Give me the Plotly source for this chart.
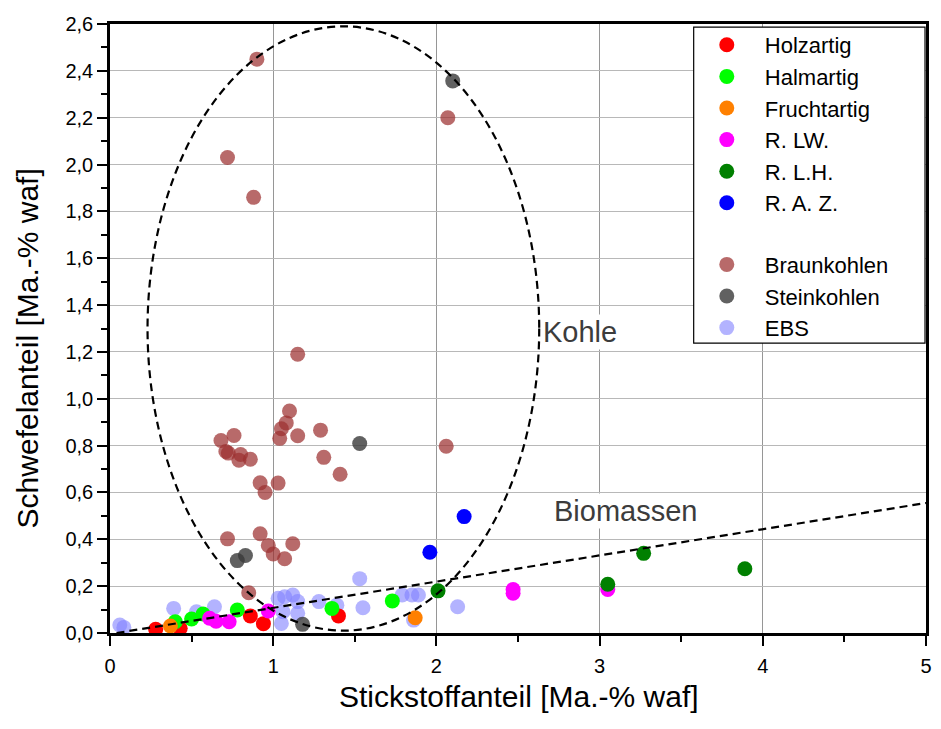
import plotly.graph_objects as go

# ---- data: nitrogen (x) and sulphur (y) content, Ma.-% waf ----
holz_x = [0.28, 0.43, 0.86, 0.94, 1.40]
holz_y = [0.016, 0.020, 0.073, 0.040, 0.073]

halm_x = [0.40, 0.50, 0.57, 0.78, 1.36, 1.73]
halm_y = [0.048, 0.060, 0.081, 0.098, 0.105, 0.137]

frucht_x = [0.37, 1.87]
frucht_y = [0.030, 0.065]

rlw_x = [0.61, 0.65, 0.73, 0.97, 2.47, 2.47, 3.05]
rlw_y = [0.063, 0.050, 0.048, 0.094, 0.186, 0.170, 0.186]

rlh_x = [2.01, 3.05, 3.27, 3.89]
rlh_y = [0.180, 0.208, 0.340, 0.274]

raz_x = [1.96, 2.17]
raz_y = [0.345, 0.497]

braun_x = [0.90, 0.72, 0.88, 2.07, 1.15, 1.10, 1.08, 1.05, 1.04, 1.15, 1.29,
           1.31, 1.41, 0.68, 0.76, 0.71, 0.725, 0.80, 0.79, 0.86, 0.92, 0.95,
           1.03, 0.72, 0.92, 0.97, 1.12, 1.00, 1.07, 2.06, 0.85]
braun_y = [2.45, 2.03, 1.86, 2.20, 1.19, 0.948, 0.897, 0.872, 0.831, 0.842, 0.866,
           0.750, 0.678, 0.822, 0.843, 0.775, 0.768, 0.762, 0.738, 0.742, 0.641, 0.600,
           0.640, 0.402, 0.424, 0.374, 0.381, 0.337, 0.317, 0.797, 0.172]

stein_x = [2.10, 1.53, 0.83, 0.78, 1.18]
stein_y = [2.357, 0.809, 0.331, 0.309, 0.037]

ebs_x = [0.06, 0.085, 0.39, 0.53, 0.64, 1.03, 1.07, 1.12, 1.15, 1.06, 1.15,
         1.05, 1.28, 1.39, 1.53, 1.55, 1.79, 1.85, 1.89, 1.86, 2.13]
ebs_y = [0.034, 0.024, 0.105, 0.091, 0.112, 0.148, 0.155, 0.162, 0.134, 0.091, 0.084,
         0.041, 0.134, 0.119, 0.232, 0.108, 0.162, 0.162, 0.162, 0.055, 0.112]

# region outlines: coal ellipse and biomass boundary line
kohle_ellipse = dict(x0=0.23, x1=2.63, y0=0.01, y1=2.59)
bio_line = dict(x0=0.04, y0=0.0, x1=5.0, y1=0.555)

FONT = "Arial, 'Liberation Sans', sans-serif"
MS = 15

fig = go.Figure()

def add(x, y, name, color, group, rank, opacity=1.0):
    fig.add_trace(go.Scatter(
        x=x, y=y, mode="markers", name=name,
        marker=dict(size=MS, color=color, opacity=opacity, line=dict(width=0)),
        legendgroup=group, legendrank=rank,
    ))

# background series first so the biomass markers sit on top
add(ebs_x, ebs_y, "EBS", "#8080ff", "coal", 9, 0.6)
add(braun_x, braun_y, "Braunkohlen", "#9c3030", "coal", 7, 0.72)
add(stein_x, stein_y, "Steinkohlen", "#3a3a3a", "coal", 8, 0.8)
add(holz_x, holz_y, "Holzartig", "#ff0000", "bio", 1)
add(halm_x, halm_y, "Halmartig", "#00ff00", "bio", 2)
add(frucht_x, frucht_y, "Fruchtartig", "#ff8000", "bio", 3)
add(rlw_x, rlw_y, "R. LW.", "#ff00ff", "bio", 4)
add(rlh_x, rlh_y, "R. L.H.", "#008000", "bio", 5)
add(raz_x, raz_y, "R. A. Z.", "#0000ff", "bio", 6)

dash = "8px,5px"
fig.add_shape(type="circle", xref="x", yref="y", layer="above",
              line=dict(color="black", width=2.2, dash=dash), **kohle_ellipse)
fig.add_shape(type="line", xref="x", yref="y", layer="above",
              line=dict(color="black", width=2.2, dash=dash), **bio_line)

# legend frame
fig.add_shape(type="rect", xref="paper", yref="paper", layer="above",
              x0=0.7153, x1=0.9988, y0=0.476, y1=0.995,
              line=dict(color="black", width=1.2), fillcolor="white")

fig.add_annotation(x=2.88, y=1.284, xref="x", yref="y", text="Kohle",
                   showarrow=False, bgcolor="white",
                   font=dict(family=FONT, size=29, color="#3c3c3c"))
fig.add_annotation(x=3.16, y=0.52, xref="x", yref="y", text="Biomassen",
                   showarrow=False, bgcolor="white",
                   font=dict(family=FONT, size=29, color="#3c3c3c"))

# axis titles
fig.add_annotation(x=0.501, y=-0.104, xref="paper", yref="paper",
                   xanchor="center", yanchor="middle",
                   text="Stickstoffanteil [Ma.-% waf]", showarrow=False,
                   font=dict(family=FONT, size=30, color="black"))
fig.add_annotation(x=-0.1, y=0.468, xref="paper", yref="paper",
                   xanchor="center", yanchor="middle",
                   text="Schwefelanteil [Ma.-% waf]", showarrow=False, textangle=-90,
                   font=dict(family=FONT, size=30, color="black"))

axis_common = dict(
    showline=True, linecolor="black", linewidth=2.5, mirror=True,
    ticks="outside", ticklen=10, tickwidth=2, tickcolor="black",
    tickfont=dict(family=FONT, size=20, color="black"),
    zeroline=False, showgrid=True, gridwidth=1,
)

fig.update_xaxes(range=[0, 5], dtick=1, tick0=0, gridcolor="#969696",
                 minor=dict(dtick=0.5, ticklen=6, tickwidth=2, tickcolor="black",
                            ticks="outside", showgrid=False),
                 ticklabelstandoff=3, **axis_common)
fig.update_yaxes(range=[0, 2.6], dtick=0.2, tick0=0, tickformat=".1f",
                 gridcolor="#b8b8b8",
                 minor=dict(dtick=0.1, ticklen=6, tickwidth=2, tickcolor="black",
                            ticks="outside", showgrid=False),
                 **axis_common)

fig.update_layout(
    width=941, height=729,
    margin=dict(l=110, r=9, t=24, b=96),
    paper_bgcolor="white", plot_bgcolor="white",
    separators=",.",
    font=dict(family=FONT, color="black"),
    legend=dict(
        x=0.7093, xanchor="left", y=1.0, yanchor="top",
        bgcolor="rgba(0,0,0,0)", borderwidth=0,
        font=dict(family=FONT, size=22, color="black"),
        itemwidth=66, traceorder="grouped", tracegroupgap=30,
    ),
)

fig.write_html("out.html")
